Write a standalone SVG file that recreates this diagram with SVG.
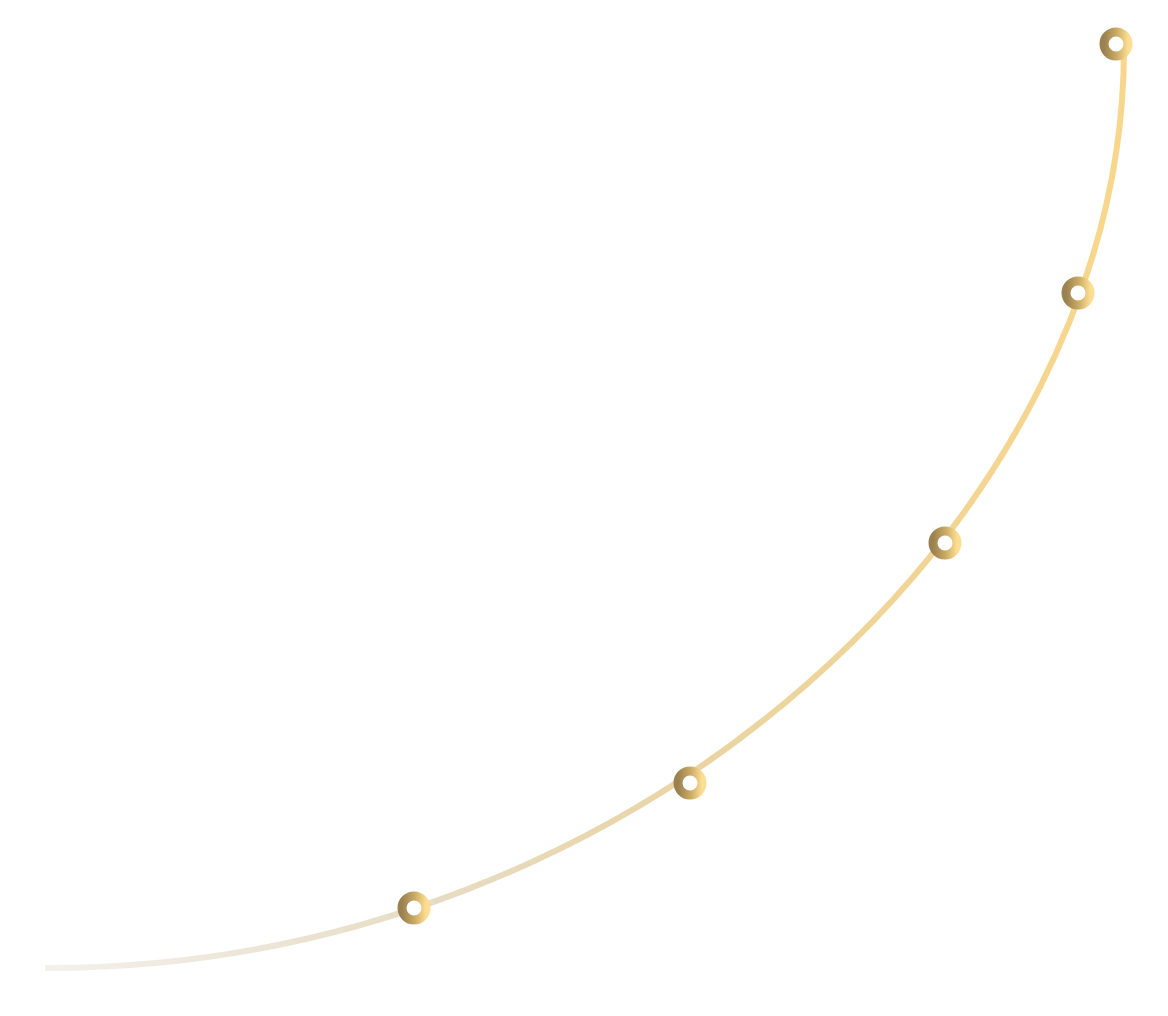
<svg xmlns="http://www.w3.org/2000/svg" width="1168" height="1016" viewBox="0 0 1168 1016">
  <defs>
    <linearGradient id="lineGrad" gradientUnits="userSpaceOnUse" x1="45" y1="0" x2="1124" y2="0">
      <stop offset="0" stop-color="#f4f1ec"/>
      <stop offset="0.35" stop-color="#e7dcc5"/>
      <stop offset="0.6" stop-color="#e9d4a3"/>
      <stop offset="0.85" stop-color="#f3d592"/>
      <stop offset="1" stop-color="#f8d78c"/>
    </linearGradient>
    <linearGradient id="ringGrad" x1="0" y1="0" x2="1" y2="0">
      <stop offset="0" stop-color="#9a8150"/>
      <stop offset="0.5" stop-color="#c8a862"/>
      <stop offset="1" stop-color="#fcde92"/>
    </linearGradient>
    <style>
      .ring { fill: #ffffff; stroke: url(#ringGrad); stroke-width: 9; }
      .curve { fill: none; stroke: url(#lineGrad); stroke-width: 6; }
    </style>
  </defs>
  <rect width="1168" height="1016" fill="#ffffff"/>
  <g id="connectors">
    <path class="curve" d="M45 968 C640 969 1124 515 1124 48"/>
  </g>
  <g id="node-1"><circle class="ring" cx="1116" cy="44" r="12"/></g>
  <g id="node-2"><circle class="ring" cx="1078" cy="293" r="12"/></g>
  <g id="node-3"><circle class="ring" cx="945" cy="543" r="12"/></g>
  <g id="node-4"><circle class="ring" cx="690" cy="783" r="12"/></g>
  <g id="node-5"><circle class="ring" cx="414" cy="908" r="12"/></g>
</svg>
